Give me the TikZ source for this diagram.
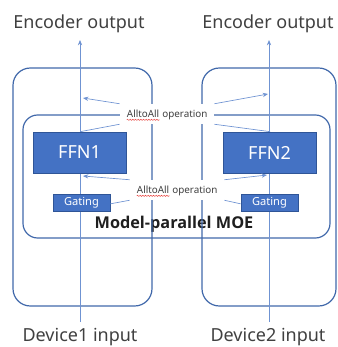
\documentclass[tikz,border=0pt]{standalone}
\usepackage{fontspec}
\setmainfont{Noto Sans}
\newfontfamily\captionfont{Open Sans}
\usetikzlibrary{arrows.meta,decorations.pathmorphing}

\definecolor{boxline}{HTML}{4068AA}
\definecolor{flowline}{HTML}{6F93D2}
\definecolor{ffnfill}{HTML}{4472C4}
\definecolor{ffnedge}{HTML}{2F5597}
\definecolor{txt}{HTML}{404040}
\definecolor{spellred}{HTML}{E8413C}

\tikzset{
  x=0.75pt, y=-0.75pt,
  devbox/.style={draw=boxline, line width=0.9pt, rounded corners=13pt},
  moebox/.style={draw=boxline, line width=0.9pt, rounded corners=11pt},
  ffnbox/.style={fill=ffnfill, draw=ffnedge, line width=0.5pt, text=white},
  flow/.style={draw=flowline, line width=0.5pt},
  flowarr/.style={flow, -{Stealth[length=4pt,width=3.2pt]}},
  biglabel/.style={text=txt, font=\fontsize{13.5}{15}\selectfont, inner sep=0pt},
  oplabel/.style={fill=white, text=txt, font=\fontsize{7.4}{8}\selectfont,
                  inner xsep=5pt, inner ysep=0pt, minimum height=15pt},
}

% spell-check style wavy underline
\newcommand{\wavyword}[1]{\tikz[baseline=(w.base)]{\node[inner sep=0pt](w){#1};
  \draw[spellred, line width=0.35pt, decorate,
        decoration={snake, amplitude=0.45pt, segment length=2pt}]
        ([yshift=-1.6pt]w.base west) -- ([yshift=-1.6pt]w.base east);}}

\begin{document}
\begin{tikzpicture}
\useasboundingbox (0,0) rectangle (337,347);

% title texts
\node[biglabel] (enc1) at (79,24) {Encoder output};
\node[biglabel] (enc2) at (268,24) {Encoder output};
\node[biglabel] (dev1) at (80,337) {Device1 input};
\node[biglabel] (dev2) at (268,337) {Device2 input};

% MOE caption (box edges run over it)
\node[font=\captionfont\bfseries\fontsize{12.2}{14}\selectfont, text=black!88, inner sep=0pt] (moe) at (174,224) {Model-parallel MOE};

% device boxes and the shared MOE box
\path[devbox] (13,68) rectangle (152,306);
\path[devbox] (202,68) rectangle (336,306);
\path[moebox] (23,115) rectangle (330,238);

% data flow through each device
\coordinate (in1) at (80,322);
\coordinate (out1) at (80,40);
\coordinate (in2) at (269,322);
\coordinate (out2) at (269,40);
\draw[flowarr] (in1) -- (out1);
\draw[flowarr] (in2) -- (out2);

% experts and gates
\node[ffnbox, minimum width=69.75pt, minimum height=30.75pt, font=\fontsize{13.5}{15}\selectfont] (ffn1) at (79.5,152.5) {FFN1};
\node[ffnbox, minimum width=69.75pt, minimum height=30.75pt, font=\fontsize{13.5}{15}\selectfont] (ffn2) at (269.5,152.5) {FFN2};
\node[ffnbox, minimum width=42.75pt, minimum height=12.75pt, inner sep=0pt, font=\fontsize{8.3}{9}\selectfont] (gate1) at (81.5,202.5) {Gating};
\node[ffnbox, minimum width=42.75pt, minimum height=12.75pt, inner sep=0pt, font=\fontsize{8.3}{9}\selectfont] (gate2) at (269.5,202.5) {Gating};

% all-to-all exchanges
\node[oplabel] (op1) at (167,114) {\wavyword{AlltoAll} operation};
\node[oplabel] (op2) at (177,190) {\wavyword{AlltoAll} operation};

\coordinate (a1) at (83,98);
\coordinate (a2) at (268,94);
\coordinate (b1) at (83,176);
\coordinate (b2) at (267,175);

\draw[flowarr] (op1.north west) -- (a1);
\draw[flowarr] (op1.north east) -- (a2);
\draw[flow] (op1.south west) -- ([xshift=0.5pt]ffn1.north);
\draw[flow] (op1.south east) -- ([xshift=0.5pt]ffn2.north);

\draw[flowarr] (op2.north west) -- (b1);
\draw[flowarr] (op2.north east) -- (b2);
\draw[flow] (op2.south west) -- ([yshift=-1pt]gate1.east);
\draw[flow] (op2.south east) -- ([yshift=-1pt]gate2.west);
\end{tikzpicture}
\end{document}
